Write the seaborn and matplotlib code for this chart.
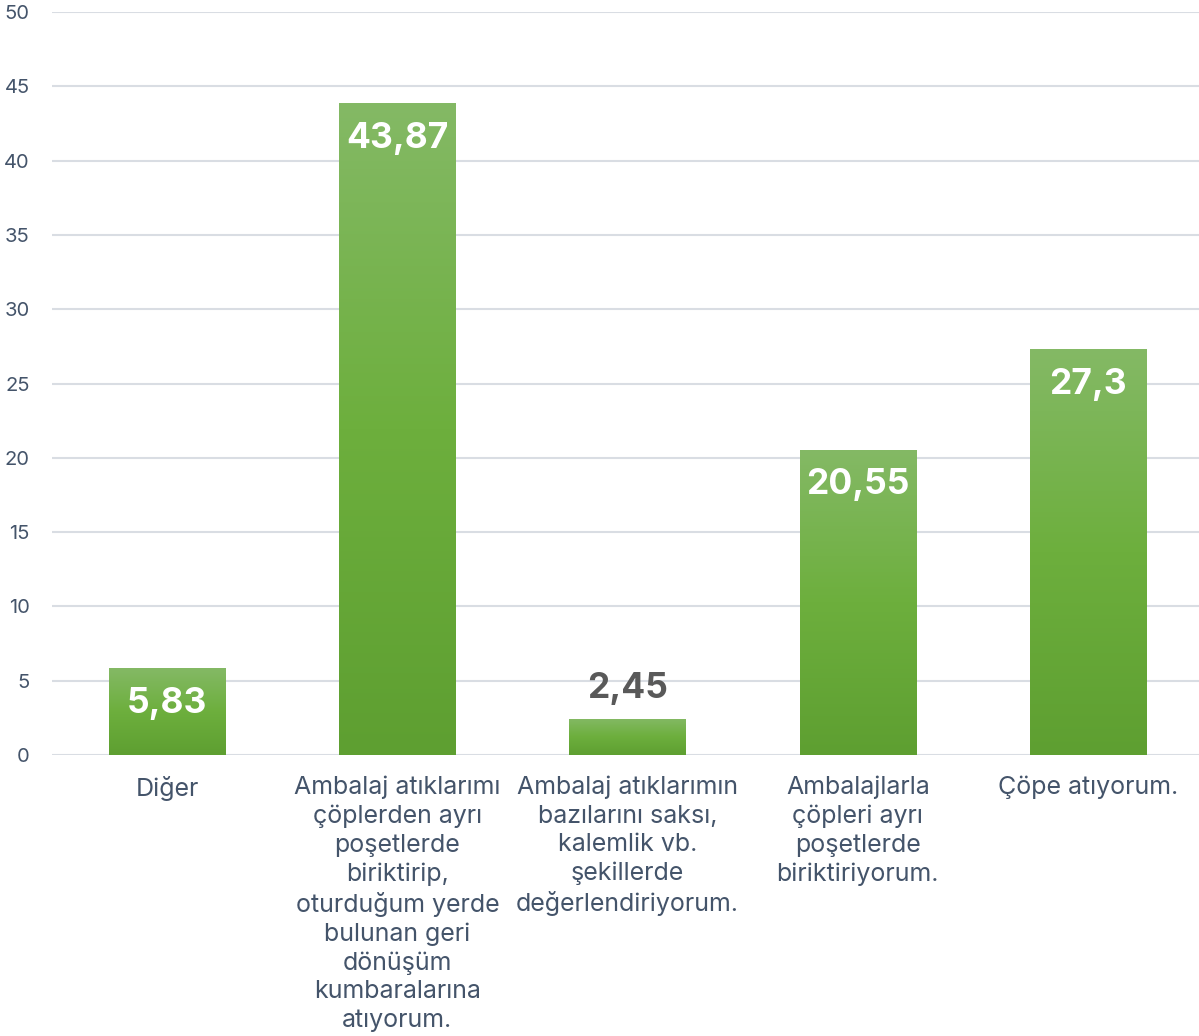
import numpy as np
import pandas as pd
import seaborn as sns
import matplotlib.pyplot as plt
from matplotlib.colors import LinearSegmentedColormap

# Данные
categories = [
    "Diğer",
    "Ambalaj atıklarımı\nçöplerden ayrı\npoşetlerde\nbiriktirip,\noturduğum yerde\nbulunan geri\ndönüşüm\nkumbaralarına\natıyorum.",
    "Ambalaj atıklarımın\nbazılarını saksı,\nkalemlik vb.\nşekillerde\ndeğerlendiriyorum.",
    "Ambalajlarla\nçöpleri ayrı\npoşetlerde\nbiriktiriyorum.",
    "Çöpe atıyorum.",
]
values = [5.83, 43.87, 2.45, 20.55, 27.3]
value_labels = ["5,83", "43,87", "2,45", "20,55", "27,3"]
y_ticks = [0, 5, 10, 15, 20, 25, 30, 35, 40, 45, 50]

df = pd.DataFrame({"cat": categories, "val": values})

sns.set_theme(style="white")
plt.rcParams["font.family"] = ["Inter", "DejaVu Sans"]

text_color = "#44546a"
grid_color = "#d9dde3"

fig = plt.figure(figsize=(11.99, 10.36), dpi=100)
ax = fig.add_axes([0.0434, 0.2712, 0.96, 0.7172])

sns.barplot(data=df, x="cat", y="val", color="#6aaa3c", width=0.505,
            ax=ax, zorder=3, saturation=1)

# Градиентная заливка столбцов
cmap = LinearSegmentedColormap.from_list("g", ["#5e9f31", "#6daf3d", "#84b965"])
grad = np.linspace(0, 1, 256).reshape(-1, 1)
for bar in ax.patches:
    x0, y0 = bar.get_x(), bar.get_y()
    w, h = bar.get_width(), bar.get_height()
    im = ax.imshow(grad, cmap=cmap, origin="lower", aspect="auto",
                   extent=[x0, x0 + w, y0, y0 + h], zorder=4)
    im.set_clip_path(bar)
    bar.set_edgecolor("none")

ax.set_xlim(-0.5, 4.5)
ax.set_ylim(0, 50)
ax.set_yticks(y_ticks)
ax.grid(axis="y", color=grid_color, linewidth=1.5, zorder=0)
ax.set_axisbelow(True)
for s in ax.spines.values():
    s.set_visible(False)

ax.set_xlabel("")
ax.set_ylabel("")
ax.tick_params(axis="y", labelsize=14.5, colors=text_color, length=0, pad=16)
ax.tick_params(axis="x", labelsize=18, colors=text_color, length=0, pad=15)
for lbl in ax.get_xticklabels():
    lbl.set_linespacing(1.3)

# Подписи значений
for i, (v, t) in enumerate(zip(values, value_labels)):
    if v > 4:
        ax.annotate(t, (i, v), xytext=(0, -35), textcoords="offset pixels",
                    ha="center", va="center", color="white", fontsize=25.5,
                    fontweight="bold", zorder=6)
    else:
        ax.annotate(t, (i, v), xytext=(0, 30), textcoords="offset pixels",
                    ha="center", va="center", color="#595959", fontsize=25.5,
                    fontweight="bold", zorder=6)

fig.savefig("out.png", dpi=100)
